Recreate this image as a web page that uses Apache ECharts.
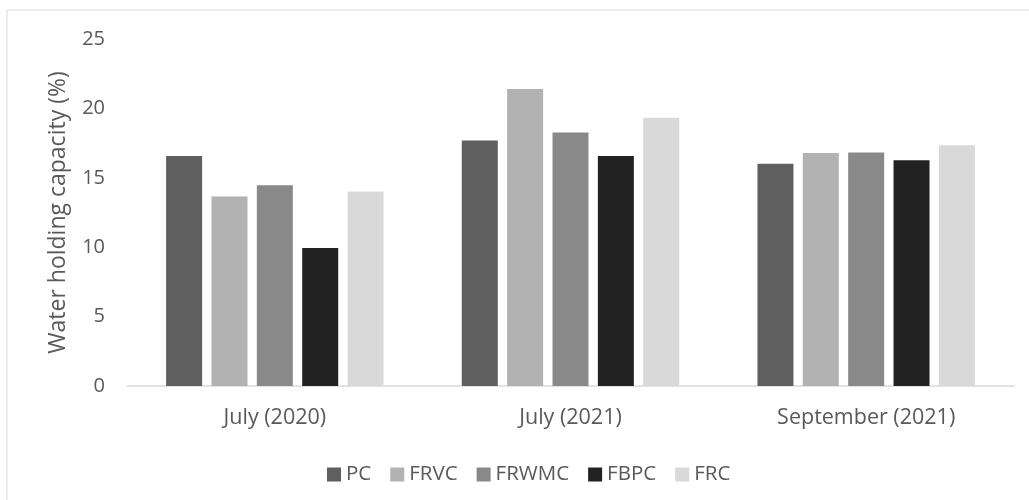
<!DOCTYPE html>
<html>
<head>
<meta charset="utf-8">
<script src="https://cdn.jsdelivr.net/npm/echarts@6/dist/echarts.min.js"></script>
<style>
  html, body { margin: 0; padding: 0; background: #ffffff; }
  #chart { width: 1029px; height: 500px; }
</style>
</head>
<body>
<div id="chart"></div>
<script>
// Sampling dates
const categories = ['July (2020)', 'July (2021)', 'September (2021)'];

// Water holding capacity (%) per treatment
const PC    = [16.57, 17.68, 16.02];
const FRVC  = [13.65, 21.39, 16.78];
const FRWMC = [14.46, 18.27, 16.83];
const FBPC  = [9.95, 16.57, 16.26];
const FRC   = [14.02, 19.33, 17.34];

const seriesNames = ['PC', 'FRVC', 'FRWMC', 'FBPC', 'FRC'];
const seriesValues = [PC, FRVC, FRWMC, FBPC, FRC];
const seriesColors = ['#5f5f5f', '#b2b2b2', '#898989', '#222222', '#d9d9d9'];

const FONT = '"Open Sans", "Liberation Sans", sans-serif';
const TEXT = '#595959';

const chart = echarts.init(document.getElementById('chart'), null, { renderer: 'canvas' });

chart.setOption({
  animation: false,
  backgroundColor: '#ffffff',
  textStyle: { fontFamily: FONT, color: TEXT },
  graphic: [{
    type: 'rect',
    shape: { x: 7, y: 10, width: 1040, height: 500 },
    style: { fill: 'none', stroke: '#d9d9d9', lineWidth: 1 },
    silent: true,
    z: -1
  }],
  grid: { left: 127, right: 15, top: 39, bottom: 114, containLabel: false },
  legend: {
    left: 322,
    top: 459,
    itemWidth: 14,
    itemHeight: 14,
    itemGap: 19,
    icon: 'rect',
    textStyle: { fontFamily: FONT, fontSize: 20.5, color: TEXT },
    data: seriesNames
  },
  xAxis: {
    type: 'category',
    data: categories,
    axisLine: { show: true, lineStyle: { color: '#d9d9d9', width: 1.5 } },
    axisTick: { show: false },
    axisLabel: { fontFamily: FONT, fontSize: 21.5, color: TEXT, margin: 21 },
    splitLine: { show: false }
  },
  yAxis: {
    type: 'value',
    min: 0,
    max: 25,
    interval: 5,
    name: 'Water holding capacity (%)',
    nameLocation: 'middle',
    nameRotate: 90,
    nameGap: 57,
    nameTextStyle: { fontFamily: FONT, fontSize: 23, color: TEXT },
    axisLine: { show: false },
    axisTick: { show: false },
    axisLabel: { fontFamily: FONT, fontSize: 20, color: TEXT, margin: 22 },
    splitLine: { show: false }
  },
  series: seriesNames.map((name, i) => ({
    name: name,
    type: 'bar',
    data: seriesValues[i],
    barWidth: 36,
    barGap: '26%',
    itemStyle: { color: seriesColors[i] }
  }))
});
</script>
</body>
</html>
